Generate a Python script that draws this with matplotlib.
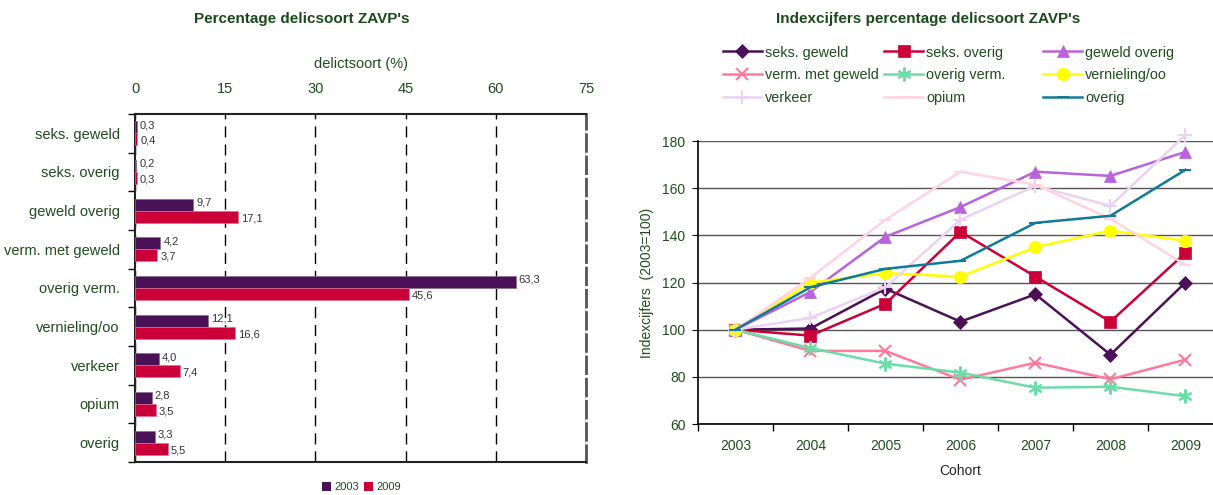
import matplotlib.pyplot as plt
import numpy as np
from matplotlib.patches import Patch

plt.rcParams['font.family'] = ['Liberation Sans', 'DejaVu Sans']

# left chart data
categories = ["seks. geweld", "seks. overig", "geweld overig", "verm. met geweld",
              "overig verm.", "vernieling/oo", "verkeer", "opium", "overig"]
pct_2003 = [0.3, 0.2, 9.7, 4.2, 63.3, 12.1, 4.0, 2.8, 3.3]
pct_2009 = [0.4, 0.3, 17.1, 3.7, 45.6, 16.6, 7.4, 3.5, 5.5]
x_ticks = [0, 15, 30, 45, 60, 75]

# right chart data
years = ["2003", "2004", "2005", "2006", "2007", "2008", "2009"]
seks_geweld = [100, 100.5, 117.4, 103.4, 115, 89.4, 120]
seks_overig = [100, 97.5, 111, 141.5, 122.5, 103.4, 132.6]
geweld_overig = [100, 116, 139.4, 152, 167, 165.2, 175.4]
verm_met_geweld = [100, 91, 91, 78.8, 86, 79, 87.3]
overig_verm = [100, 92.2, 85.6, 81.8, 75.4, 75.8, 71.8]
vernieling = [100, 120, 124, 122.5, 135, 142, 137.7]
verkeer = [100, 105, 118, 146.6, 161, 152.5, 182.6]
opium = [100, 122, 146.6, 167, 161.5, 147, 127.5]
overig = [100, 118, 125.8, 129.2, 145.3, 148.3, 167.8]
y_ticks = [60, 80, 100, 120, 140, 160, 180]

GREEN = '#1E4D1E'
C2003 = '#4A1157'
C2009 = '#CC0038'

fig = plt.figure(figsize=(12.13, 4.95), dpi=100)

# ---------- left: horizontal bars ----------
ax1 = fig.add_axes([0.1113, 0.0667, 0.3718, 0.7030])
ypos = np.arange(len(categories))
h = 0.31
b1 = ax1.barh(ypos - h / 2, pct_2003, height=h, color=C2003, edgecolor='#8a6a95', linewidth=0.5, zorder=3)
b2 = ax1.barh(ypos + h / 2, pct_2009, height=h, color=C2009, edgecolor='#e07090', linewidth=0.5, zorder=3)
for bars, vals, dy in [(b1, pct_2003, -0.06), (b2, pct_2009, 0.04)]:
    for bar, v in zip(bars, vals):
        ax1.text(bar.get_width() + 0.5, bar.get_y() + bar.get_height() / 2 + dy,
                 f"{v:.1f}".replace('.', ','), va='center', ha='left',
                 fontsize=8, color='#333333', zorder=4)
ax1.set_ylim(len(categories) - 0.5, -0.5)
ax1.set_xlim(0, 75)
ax1.set_yticks(ypos)
ax1.set_yticklabels(categories, fontsize=10.5, color=GREEN)
ax1.set_yticks(np.arange(-0.5, len(categories)), minor=True)
ax1.tick_params(axis='y', which='major', length=0, pad=11)
ax1.tick_params(axis='y', which='minor', length=5, direction='out', width=1)
ax1.xaxis.tick_top()
ax1.xaxis.set_label_position('top')
ax1.set_xticks(x_ticks)
ax1.tick_params(axis='x', length=0, pad=13, labelsize=10.5, labelcolor=GREEN)
ax1.set_xlabel("delictsoort (%)", fontsize=10.5, color=GREEN, labelpad=10)
ax1.grid(axis='x', color='black', linestyle=(0, (8, 5)), linewidth=1, zorder=1)
for s in ['left', 'top', 'bottom']:
    ax1.spines[s].set_linewidth(1.5)
    ax1.spines[s].set_color('#222222')
ax1.spines['right'].set_color('#555555')
ax1.spines['right'].set_linewidth(2)
ax1.spines['right'].set_linestyle((0, (6, 2)))
fig.text(0.249, 0.962, "Percentage delicsoort ZAVP's", ha='center', va='center',
         fontsize=11, fontweight='bold', color='#1A4A1A')
fig.legend(handles=[Patch(facecolor=C2003, label='2003'), Patch(facecolor=C2009, label='2009')],
           loc='center', bbox_to_anchor=(0.298, 0.016), ncol=2, frameon=False,
           fontsize=8, handlelength=0.8, handleheight=0.8, handletextpad=0.3,
           columnspacing=0.4, labelcolor=GREEN)

# ---------- right: index lines ----------
ax2 = fig.add_axes([0.5754, 0.1434, 0.4328, 0.5717])
xs = np.arange(len(years))
series = [
    ("seks. geweld", seks_geweld, '#4A1157', 'D', 7),
    ("seks. overig", seks_overig, '#CC0038', 's', 8),
    ("geweld overig", geweld_overig, '#B862DC', '^', 9),
    ("verm. met geweld", verm_met_geweld, '#FF7A9A', 'x', 9),
    ("overig verm.", overig_verm, '#6CDCA8', (6, 2, 0), 10),
    ("vernieling/oo", vernieling, '#FFFF00', 'o', 9),
    ("verkeer", verkeer, '#E9D3F2', '+', 10),
    ("opium", opium, '#FFD3E0', '_', 9),
    ("overig", overig, '#117A98', '_', 9),
]
handles = []
for name, vals, col, mk, ms in series:
    ln, = ax2.plot(xs, vals, color=col, marker=mk, markersize=ms, linewidth=1.8,
                   markeredgewidth=1.5 if mk in ('x', '+', '_', (6, 2, 0)) else 0.5,
                   markeredgecolor=col, label=name, zorder=3, clip_on=False)
    handles.append(ln)
ax2.set_xlim(-0.5, 6.5)
ax2.set_ylim(60, 180)
ax2.set_yticks(y_ticks)
ax2.set_xticks(xs)
ax2.set_xticklabels(years)
ax2.set_xticks(np.arange(-0.5, 7), minor=True)
ax2.tick_params(axis='x', which='major', length=0, pad=11, labelsize=10, labelcolor=GREEN)
ax2.tick_params(axis='x', which='minor', length=5, direction='out', width=1)
ax2.tick_params(axis='y', length=4, direction='out', labelsize=10, labelcolor=GREEN, pad=5)
ax2.grid(axis='y', color='#555555', linewidth=1, zorder=1)
ax2.set_axisbelow(True)
ax2.spines['top'].set_visible(False)
ax2.spines['right'].set_visible(False)
ax2.spines['left'].set_linewidth(1.2)
ax2.spines['bottom'].set_linewidth(1.2)
ax2.set_xlabel("Cohort", fontsize=10, color='#222222', labelpad=8)
ax2.set_ylabel("Indexcijfers  (2003=100)", fontsize=10, color=GREEN, labelpad=6)
fig.text(0.765, 0.962, "Indexcijfers percentage delicsoort ZAVP's", ha='center', va='center',
         fontsize=11, fontweight='bold', color='#1A4A1A')

col_x = [0.596, 0.729, 0.860]
for c in range(3):
    hs = [handles[c + 3 * r] for r in range(3)]
    fig.legend(handles=hs, loc='upper left', bbox_to_anchor=(col_x[c], 0.908),
               frameon=False, fontsize=10.4, handlelength=2.7, handletextpad=0.2,
               labelspacing=0.62, borderpad=0, borderaxespad=0, labelcolor=GREEN)

fig.savefig("out.png", dpi=100)
